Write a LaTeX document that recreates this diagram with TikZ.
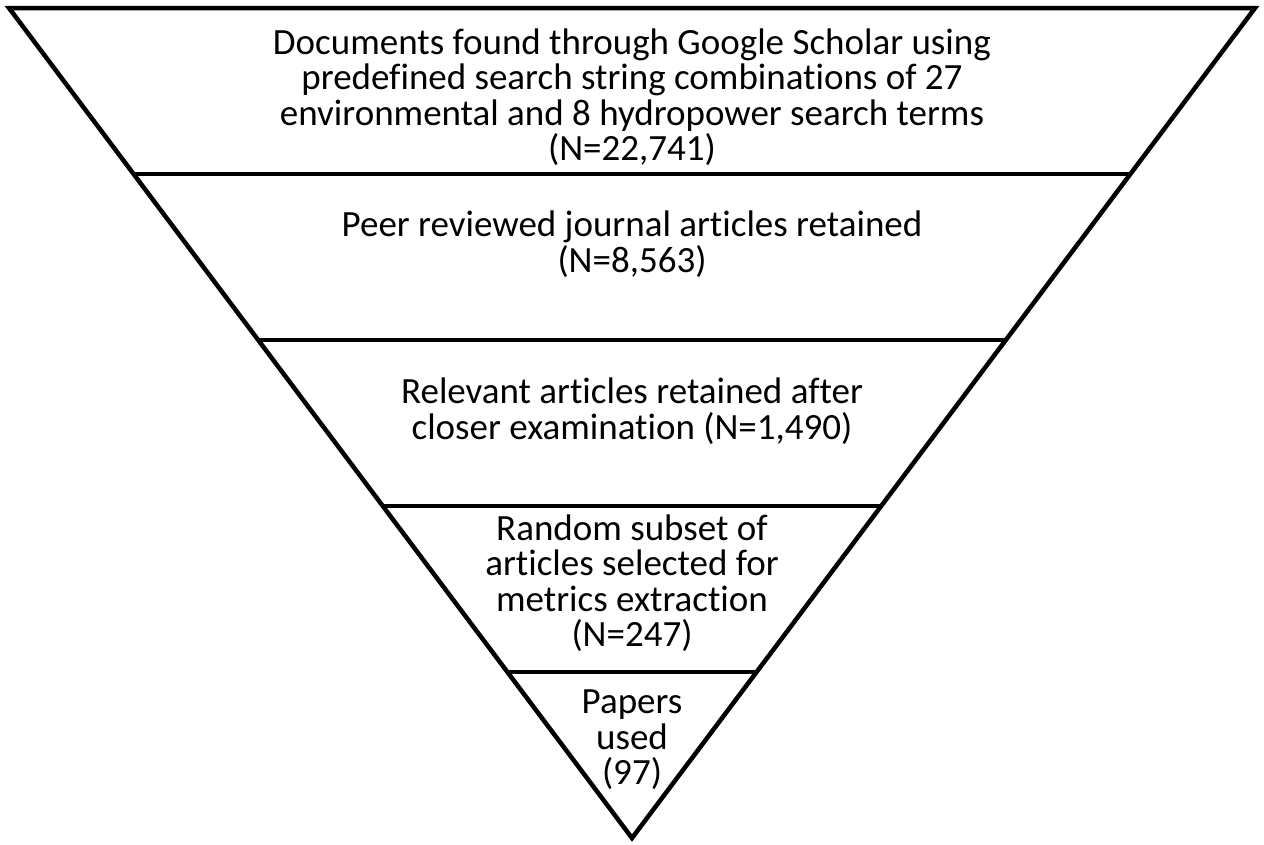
\documentclass[tikz,border=0pt]{standalone}
\usepackage{fontspec}
\setmainfont{Carlito}[Ligatures={NoCommon}]
\usetikzlibrary{calc}

\begin{document}
\begin{tikzpicture}[x=1pt,y=1pt,line width=4.5pt,line join=miter,
  txt/.style={align=center,font=\fontsize{37}{35.5}\selectfont,inner sep=0pt}]
\useasboundingbox (0,0) rectangle (1264,-844);
\coordinate (TL) at (9,-8);
\coordinate (TR) at (1255,-8);
\coordinate (B) at (632,-838);
\draw (TL) -- (TR) -- (B) -- cycle;
\foreach \f in {0.2,0.4,0.6,0.8}
  \draw ($(TL)!\f!(B)$) -- ($(TR)!\f!(B)$);
\node[txt] (N1) at (632,-97) {Documents found through Google Scholar using\\predefined search string combinations of 27\\environmental and 8 hydropower search terms\\(N=22,741)};
\node[txt] (N2) at (632,-244) {Peer reviewed journal articles retained\\(N=8,563)};
\node[txt] (N3) at (632,-411) {Relevant articles retained after\\closer examination (N=1,490)};
\node[txt] (N4) at (632,-583) {Random subset of\\articles selected for\\metrics extraction\\(N=247)};
\node[txt] (N5) at (632,-740) {Papers\\used\\(97)};
\end{tikzpicture}
\end{document}
